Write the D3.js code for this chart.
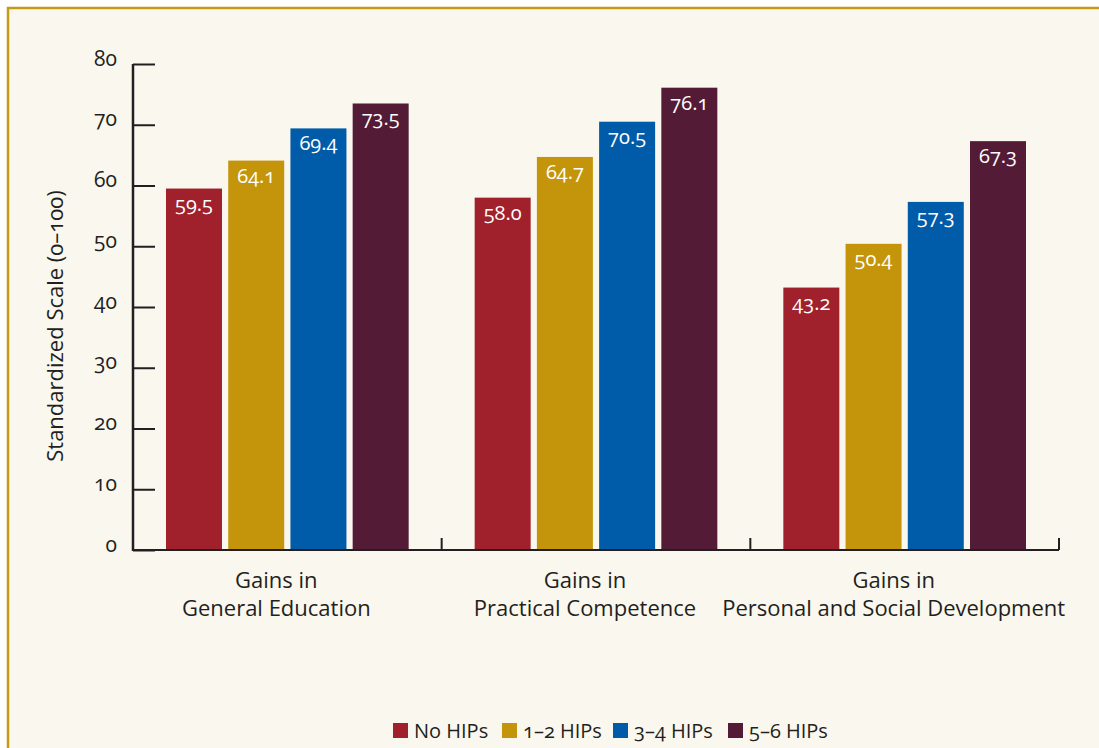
<!DOCTYPE html>
<html>
<head>
<meta charset="utf-8">
<script src="https://cdn.jsdelivr.net/npm/d3@7"></script>
<style>
  html, body { margin: 0; padding: 0; background: #fff; }
  svg text { font-family: "Open Sans", "DejaVu Sans", sans-serif; font-variant-numeric: oldstyle-nums; fill: #231f20; }
</style>
</head>
<body>
<svg width="1099" height="748"></svg>
<script>
// ---------------------------------------------------------------------
// Chart data
// ---------------------------------------------------------------------
const categories = [
  ["Gains in", "General Education"],
  ["Gains in", "Practical Competence"],
  ["Gains in", "Personal and Social Development"]
];
const seriesNames  = ["No HIPs", "1–2 HIPs", "3–4 HIPs", "5–6 HIPs"];
const seriesColors = ["#a0212b", "#c4950b", "#005ba9", "#541b37"];
const noHips   = [59.5, 58.0, 43.2];
const hips12   = [64.1, 64.7, 50.4];
const hips34   = [69.4, 70.5, 57.3];
const hips56   = [73.5, 76.1, 67.3];
const yTicks   = [0, 10, 20, 30, 40, 50, 60, 70, 80];

const series = [noHips, hips12, hips34, hips56];

let svg = d3.select("svg");

// background panel with the gold frame
svg.append("rect")
  .attr("x", 8).attr("y", 8)
  .attr("width", 1100).attr("height", 760)
  .attr("fill", "#faf7ef")
  .attr("stroke", "#c89a14")
  .attr("stroke-width", 2.5);

let plotLeft = 133, plotRight = 1059, plotTop = 64, plotBottom = 550;

let x0 = d3.scaleBand()
  .domain(d3.range(categories.length))
  .range([plotLeft, plotRight])
  .paddingInner(0)
  .paddingOuter(0);

let x1 = d3.scaleBand()
  .domain(d3.range(seriesNames.length))
  .range([33, x0.bandwidth() - 33])
  .paddingInner(0.1);

let y = d3.scaleLinear()
  .domain([0, 80])
  .range([plotBottom, plotTop]);

// bars
let groups = svg.append("g").selectAll("g")
  .data(categories)
  .join("g")
    .attr("transform", (d, i) => `translate(${x0(i)},0)`);

groups.selectAll("rect")
  .data((d, i) => series.map((s, j) => ({ s: j, v: s[i] })))
  .join("rect")
    .attr("x", d => x1(d.s))
    .attr("y", d => y(d.v))
    .attr("width", x1.bandwidth())
    .attr("height", d => y(0) - y(d.v))
    .attr("fill", d => seriesColors[d.s]);

groups.selectAll("text.val")
  .data((d, i) => series.map((s, j) => ({ s: j, v: s[i] })))
  .join("text")
    .attr("class", "val")
    .attr("x", d => x1(d.s) + x1.bandwidth() / 2)
    .attr("y", d => y(d.v) + 22)
    .attr("text-anchor", "middle")
    .style("fill", "#fff")
    .style("font-size", "20px")
    .text(d => d.v.toFixed(1));

// y axis
let yAxis = svg.append("g")
  .attr("transform", `translate(${plotLeft},0)`)
  .call(d3.axisRight(y).tickValues(yTicks).tickSize(22).tickFormat(d3.format("d")));
yAxis.select(".domain").remove();
yAxis.selectAll(".tick line").attr("stroke", "#231f20").attr("stroke-width", 2);
yAxis.selectAll(".tick text")
  .attr("x", -16)
  .attr("text-anchor", "end")
  .attr("dy", "0.05em")
  .style("font-size", "21px");
yAxis.append("line")
  .attr("x1", 0).attr("x2", 0)
  .attr("y1", y(80)).attr("y2", y(0) + 1)
  .attr("stroke", "#231f20").attr("stroke-width", 2.5);

// x axis with upward ticks at the group boundaries
let xAxis = svg.append("g")
  .attr("transform", `translate(0,${plotBottom})`);
xAxis.append("line")
  .attr("x1", plotLeft).attr("x2", plotRight)
  .attr("stroke", "#231f20").attr("stroke-width", 2);
xAxis.selectAll("line.tk")
  .data(d3.range(1, categories.length + 1))
  .join("line")
    .attr("class", "tk")
    .attr("x1", d => x0(d - 1) + x0.bandwidth())
    .attr("x2", d => x0(d - 1) + x0.bandwidth())
    .attr("y1", 0).attr("y2", -12)
    .attr("stroke", "#231f20").attr("stroke-width", 2);

// category labels, one text per line
let catLabels = svg.append("g").selectAll("g")
  .data(categories)
  .join("g")
    .attr("transform", (d, i) => `translate(${x0(i) + x0.bandwidth() / 2 - 11},588)`);
catLabels.selectAll("text")
  .data(d => d)
  .join("text")
    .attr("y", (d, i) => i * 28)
    .attr("text-anchor", "middle")
    .style("font-size", "22px")
    .text(d => d);

// y axis title
svg.append("text")
  .attr("transform", "translate(63,326) rotate(-90)")
  .attr("text-anchor", "middle")
  .style("font-size", "22px")
  .text("Standardized Scale (0–100)");

// legend
let legendX = [393, 502, 613, 728];
let legend = svg.append("g").selectAll("g")
  .data(seriesNames)
  .join("g")
    .attr("transform", (d, i) => `translate(${legendX[i]},723)`);
legend.append("rect")
  .attr("width", 15).attr("height", 15)
  .attr("fill", (d, i) => seriesColors[i]);
legend.append("text")
  .attr("x", 21).attr("y", 15)
  .style("font-size", "20px")
  .text(d => d);
</script>
</body>
</html>
